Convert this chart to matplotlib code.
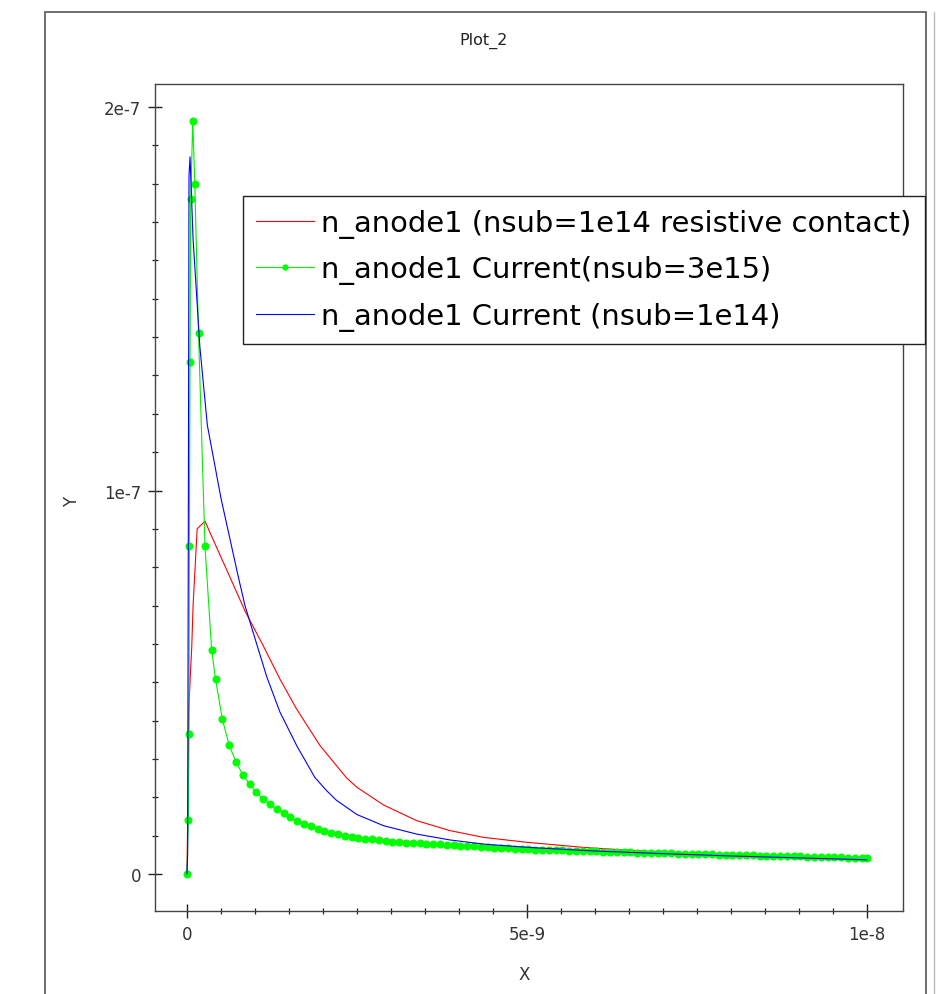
import numpy as np
import matplotlib
matplotlib.use("Agg")
import matplotlib.pyplot as plt
from matplotlib.ticker import FixedLocator, FixedFormatter
from matplotlib.patches import Rectangle
from matplotlib.lines import Line2D

# time in ns, current in 1e-7
red_t = [0, 0.015, 0.025, 0.05, 0.07, 0.09, 0.12, 0.15, 0.265, 0.44, 0.6, 0.68,
         0.853, 1.122, 1.368, 1.613, 1.956, 2.35, 2.5, 2.89, 3.38, 3.87, 4.36,
         5.0, 5.82, 6.4, 7.0, 8.0, 9.0, 10.0]
red_y = [0, 0.2, 0.42, 0.52, 0.59, 0.70, 0.80, 0.90, 0.92, 0.850, 0.787, 0.755,
         0.686, 0.595, 0.508, 0.430, 0.335, 0.250, 0.226, 0.180, 0.139, 0.113,
         0.0955, 0.0826, 0.0695, 0.063, 0.057, 0.051, 0.046, 0.041]

blue_t = [0, 0.01, 0.02, 0.03, 0.045, 0.09, 0.19, 0.3, 0.5, 0.755, 0.853, 1.025,
          1.172, 1.368, 1.613, 1.88, 2.05, 2.2, 2.5, 2.89, 3.38, 3.87, 4.36, 5.0,
          6.0, 7.0, 8.0, 9.0, 10.0]
blue_y = [0, 0.05, 0.9, 1.82, 1.87, 1.656, 1.374, 1.17, 0.98, 0.775, 0.70, 0.60,
          0.515, 0.422, 0.335, 0.252, 0.218, 0.192, 0.155, 0.126, 0.104, 0.0887,
          0.078, 0.0695, 0.060, 0.053, 0.047, 0.042, 0.037]

green_t_start = [0, 0.02, 0.03, 0.035, 0.045, 0.055, 0.085, 0.115, 0.17, 0.265, 0.363]
green_y_start = [0, 0.14, 0.365, 0.855, 1.335, 1.76, 1.964, 1.80, 1.41, 0.855, 0.585]
green_t_tail = list(np.round(np.arange(0.42, 9.93, 0.1), 2)) + [10.0]
green_y_tail = [
    0.508, 0.404, 0.336, 0.293, 0.259, 0.235, 0.213, 0.196, 0.182, 0.169,
    0.158, 0.149, 0.139, 0.131, 0.124, 0.118,
    0.113, 0.108, 0.104, 0.100, 0.097, 0.094, 0.092, 0.090, 0.088, 0.086,
    0.084, 0.083, 0.082, 0.081, 0.080, 0.079, 0.078, 0.077, 0.076, 0.075,
    0.074, 0.073, 0.072, 0.071, 0.070, 0.069, 0.068, 0.067, 0.066, 0.065,
    0.064, 0.0635, 0.063, 0.0625, 0.062, 0.0615, 0.061, 0.0605, 0.060, 0.0595,
    0.059, 0.0585, 0.058, 0.0575, 0.057, 0.0565, 0.056, 0.0555, 0.055, 0.0545,
    0.054, 0.0535, 0.053, 0.0526, 0.0522, 0.0518, 0.0514, 0.051, 0.0506, 0.0502,
    0.0498, 0.0494, 0.049, 0.0486, 0.0482, 0.0478, 0.0474, 0.047, 0.0466, 0.0462,
    0.0458, 0.0454, 0.045, 0.0446, 0.0442, 0.0438, 0.0434, 0.043, 0.0427, 0.0424,
    0.042,
]

labels = ["n_anode1 (nsub=1e14 resistive contact)",
          "n_anode1 Current(nsub=3e15)",
          "n_anode1 Current (nsub=1e14)"]

xticks = [0, 5e-9, 1e-8]
xtick_labels = ["0", "5e-9", "1e-8"]
yticks = [0, 1e-7, 2e-7]
ytick_labels = ["0", "1e-7", "2e-7"]

W, H = 943, 995
fig = plt.figure(figsize=(W / 100, H / 100), dpi=100)
ax = fig.add_axes([155 / W, 1 - 912 / H, (903 - 155) / W, (912 - 85) / H])

ns, unit = 1e-9, 1e-7
green_t = np.array(green_t_start + green_t_tail) * ns
green_y = np.array(green_y_start + green_y_tail) * unit

ax.plot(np.array(red_t) * ns, np.array(red_y) * unit, color="#ff0000", lw=0.8)
ax.plot(green_t, green_y, color="#00ee00", lw=0.8, marker="o", ms=4.8,
        mec="#00ff00", mfc="#00ff00")
ax.plot(np.array(blue_t) * ns, np.array(blue_y) * unit, color="#0000ff", lw=0.8)

ax.set_xlim(-0.47e-9, 10.53e-9)
ax.set_ylim(-0.0965e-7, 2.06e-7)

ax.xaxis.set_major_locator(FixedLocator(xticks))
ax.xaxis.set_major_formatter(FixedFormatter(xtick_labels))
ax.yaxis.set_major_locator(FixedLocator(yticks))
ax.yaxis.set_major_formatter(FixedFormatter(ytick_labels))
ax.xaxis.set_minor_locator(FixedLocator(np.linspace(0, 1e-8, 21)))
ax.yaxis.set_minor_locator(FixedLocator(np.linspace(0, 2e-7, 21)))

spine_col = "#444444"
for s in ax.spines.values():
    s.set_color(spine_col)
    s.set_linewidth(1.0)
ax.tick_params(which="major", direction="inout", length=10, width=1,
               color="#222222", labelsize=12, labelcolor="#333333", pad=5)
ax.tick_params(which="minor", direction="inout", length=4.5, width=0.9,
               color="#222222")

fig.text(484 / W, 1 - 41 / H, "Plot_2", ha="center", va="center",
         fontsize=11.5, color="#222222")
fig.text(524 / W, 1 - 975 / H, "X", ha="center", va="center",
         fontsize=12, color="#333333")
fig.text(72 / W, 1 - 502 / H, "Y", ha="center", va="center", rotation=90,
         fontsize=12, color="#333333")

handles = [Line2D([], [], color="#ff0000", lw=0.8),
           Line2D([], [], color="#00ee00", lw=0.8, marker="o", ms=3.5,
                  mfc="#00ff00", mec="#00ff00"),
           Line2D([], [], color="#0000ff", lw=0.8)]
leg = fig.legend(handles, labels, loc="upper left",
                 bbox_to_anchor=(243 / W, 1 - 197 / H),
                 bbox_transform=fig.transFigure, borderaxespad=0,
                 fontsize=20.9, fancybox=False, framealpha=1, edgecolor="#222222",
                 borderpad=0.45, labelspacing=0.6, handlelength=2.0,
                 handletextpad=0.25)
leg.get_frame().set_linewidth(1.0)

# outer panel frame
fig.patches.append(Rectangle((44.5 / W, -0.02), (926 - 44.5) / W, 1 - 13 / H + 0.02,
                             transform=fig.transFigure, fill=False,
                             edgecolor="#555555", lw=1.2))
fig.lines.append(Line2D([934 / W, 934 / W], [0, 1 - 13 / H],
                        transform=fig.transFigure, color="#bbbbbb", lw=1))

fig.savefig("out.png", dpi=100)
